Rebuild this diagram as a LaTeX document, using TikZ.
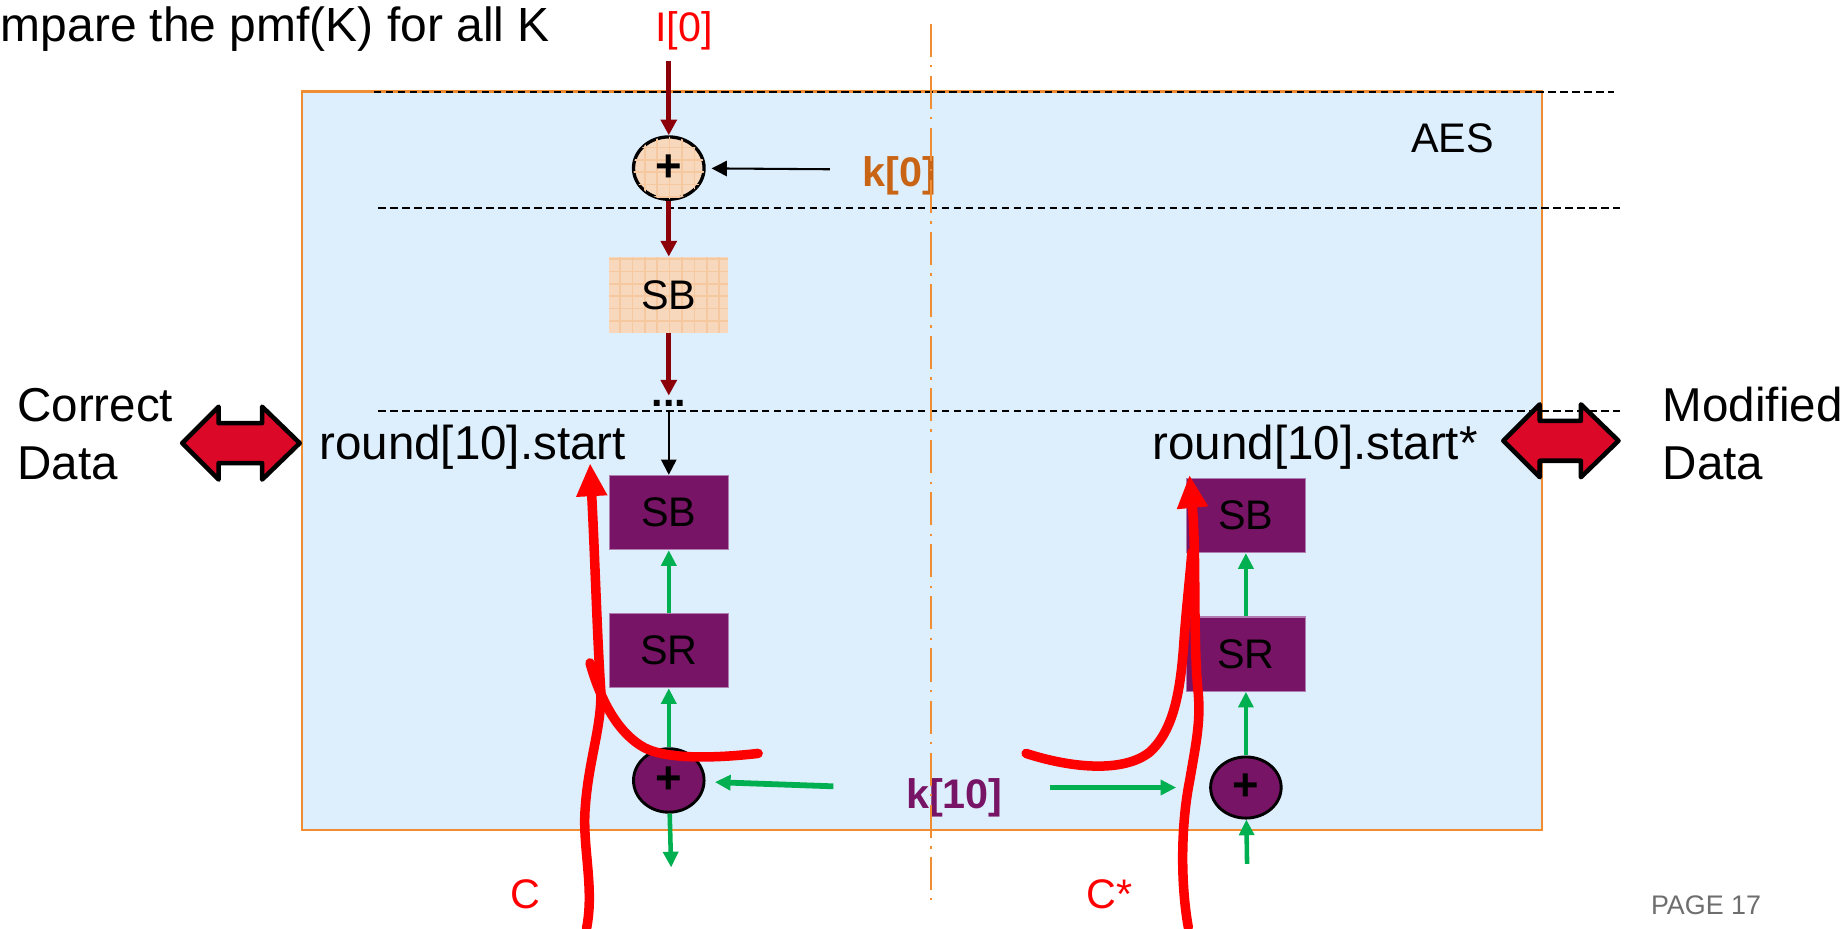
\documentclass[tikz,border=0pt]{standalone}
\usepackage{fontspec}
\setmainfont{Liberation Sans}
\usetikzlibrary{arrows.meta,shapes.geometric,patterns}
\definecolor{aesblue}{RGB}{221,238,253}
\definecolor{aesorange}{RGB}{240,140,50}
\definecolor{peach}{RGB}{248,216,188}
\definecolor{peachgrid}{RGB}{246,200,160}
\definecolor{roundpurple}{RGB}{119,20,101}
\definecolor{boxedge}{RGB}{175,125,175}
\definecolor{keygreen}{RGB}{0,176,80}
\definecolor{darkred}{RGB}{140,0,10}
\definecolor{keyorange}{RGB}{200,100,20}
\definecolor{arrowred}{RGB}{220,8,40}
\definecolor{pagegrey}{RGB}{110,110,110}

\begin{document}
\begin{tikzpicture}[x=0.01cm,y=-0.01cm,
    lbl/.style={inner sep=0pt,font=\fontsize{10}{12}\selectfont},
    biglbl/.style={inner sep=0pt,font=\fontsize{11.5}{14}\selectfont},
    xorpeach/.style={ellipse,draw,line width=0.8pt,fill=peach,
        postaction={pattern=grid,pattern color=peachgrid},
        minimum width=0.6cm,minimum height=0.53cm,inner sep=0pt,
        font=\bfseries\fontsize{11}{12}\selectfont},
    xorpurple/.style={ellipse,draw,line width=0.7pt,fill=roundpurple,
        minimum width=0.6cm,minimum height=0.54cm,inner sep=0pt,
        font=\bfseries\fontsize{11}{12}\selectfont},
    peachbox/.style={rectangle,fill=peach,
        postaction={pattern=grid,pattern color=peachgrid},
        minimum width=1.01cm,minimum height=0.64cm,
        font=\fontsize{10}{12}\selectfont},
    purplebox/.style={rectangle,fill=roundpurple,draw=boxedge,line width=0.3pt,
        minimum width=1.01cm,minimum height=0.63cm,
        font=\fontsize{10}{12}\selectfont},
    darkarr/.style={draw=darkred,line width=1.2pt,-{Triangle[length=3.8pt,width=3.8pt]}},
    grnarr/.style={draw=keygreen,line width=1.1pt,-{Triangle[length=3.8pt,width=3.6pt]}},
    blkarr/.style={draw=black,line width=0.5pt,-{Triangle[length=3.7pt,width=3.7pt]}},
    sepline/.style={draw=black,line width=0.5pt,dash pattern=on 1.8pt off 1.1pt},
    redstroke/.style={draw=red,line width=2.3pt,line cap=round,line join=round},
    dblarr/.style={fill=arrowred,draw=black,line width=1.1pt,line join=round}]
\useasboundingbox (0,0) rectangle (1568,790);

%% AES block
\draw[aesorange,line width=0.6pt,fill=aesblue] (257,78) rectangle (1312,706);
\draw[sepline] (318,78) -- (1373,78);
\draw[sepline] (322,177) -- (1378,177);
\draw[sepline] (322,350) -- (1378,350);
\node[lbl,anchor=base west] (aes) at (1200,130) {AES};

%% title
\node[inner sep=0pt,anchor=base west,font=\fontsize{11.6}{14}\selectfont] (ttl) at (0,35) {mpare the pmf(K) for all K};

%% first round (correct side)
\node[lbl,red,anchor=base] (in0) at (582,35) {I[0]};
\coordinate (i0) at (569,52);
\node[xorpeach] (x0) at (569,143) {+};
\node[lbl,keyorange,anchor=base west,font=\bfseries\fontsize{10}{12}\selectfont] (k0) at (733,159) {k[0]};
\coordinate (k0t) at (706,144);
\node[peachbox] (sb0) at (569,251) {SB};
\node[anchor=base,inner sep=1pt,font=\bfseries\fontsize{10}{12}\selectfont] (dots) at (569,346) {...};

\draw[darkarr] (i0) -- (x0);
\draw[blkarr,shorten >=0.05cm] (k0t) -- (x0);
\draw[darkarr] (x0) -- (sb0);
\draw[darkarr] (sb0) -- (dots);

%% last round, correct data
\node[biglbl,anchor=base west] (rs) at (271,391) {round[10].start};
\node[purplebox] (sb1) at (569,436) {SB};
\node[purplebox] (sr1) at (569,553.5) {SR};
\node[xorpurple] (xl) at (569,664) {+};
\coordinate (cl) at (571,738);
\coordinate (kl) at (709,669);

\draw[blkarr] (dots) -- (sb1);
\draw[grnarr] (sr1) -- (sb1);
\draw[grnarr] (xl) -- (sr1);
\draw[grnarr] (xl) -- (cl);
\draw[grnarr,line width=1.4pt,shorten >=0.08cm] (kl) -- (xl);

%% last round, modified data
\node[biglbl,anchor=base west] (rsm) at (980,391) {round[10].start*};
\node[purplebox] (sb2) at (1060,438.5) {SB};
\node[purplebox] (sr2) at (1060,556.5) {SR};
\node[xorpurple,minimum height=0.52cm] (xr) at (1060,670) {+};
\coordinate (cr) at (1061,735);
\coordinate (kr) at (893,670);

\draw[grnarr] (sr2) -- (sb2);
\draw[grnarr] (xr) -- (sr2);
\draw[grnarr] (cr) -- (xr);
\draw[grnarr,line width=1.4pt,shorten >=0.28cm] (kr) -- (xr);

\node[lbl,roundpurple,anchor=base,font=\bfseries\fontsize{10}{12}\selectfont] (k10) at (812,688) {k[10]};

%% middle line
\draw[aesorange,line width=0.5pt,dash pattern=on 8pt off 2pt on 0.6pt off 2pt] (792,20) -- (792,766);

%% data arrows
\filldraw[dblarr,shift={(205,377)}] (-50,0) -- (-19,-31) -- (-19,-17) -- (18,-17) -- (18,-31)
  -- (50,0) -- (18,31) -- (18,17) -- (-19,17) -- (-19,31) -- cycle;
\filldraw[dblarr,shift={(1328,375)}] (-49,0) -- (-18,-31) -- (-18,-17) -- (17,-17) -- (17,-31)
  -- (49,0) -- (17,31) -- (17,17) -- (-18,17) -- (-18,31) -- cycle;
\node[biglbl,anchor=base west] (cor) at (14,359) {Correct};
\node[biglbl,anchor=base west] (cdat) at (14,408) {Data};
\node[biglbl,anchor=base west] (mod) at (1414,359) {Modified};
\node[biglbl,anchor=base west] (mdat) at (1414,408) {Data};

%% ciphertexts
\node[lbl,red,anchor=base west] (c) at (434,773) {C};
\node[lbl,red,anchor=base west] (cs) at (924,773) {C*};
\draw[redstroke,-{Triangle[length=8pt,width=7pt]}] (499,790) .. controls (506,755) and (495,720) .. (498,686)
  .. controls (501,645) and (513,615) .. (511,585) .. controls (508,540) and (506,470) .. (502,394);
\draw[redstroke] (502,564) .. controls (512,600) and (528,625) .. (548,636)
  .. controls (565,645) and (600,646) .. (645,641);
\draw[redstroke,-{Triangle[length=8pt,width=7pt]}] (1011,789) .. controls (1004,750) and (1005,700) .. (1012,665)
  .. controls (1018,630) and (1022,612) .. (1019,585) .. controls (1015,540) and (1018,470) .. (1012,404);
\draw[redstroke] (873,641) .. controls (910,653) and (955,658) .. (978,640)
  .. controls (998,622) and (1004,590) .. (1007,550) .. controls (1009,520) and (1012,495) .. (1014,470);

\node[inner sep=0pt,pagegrey,anchor=base west,font=\fontsize{6.5}{8}\selectfont] (pg) at (1404,778) {PAGE 17};
\end{tikzpicture}
\end{document}
